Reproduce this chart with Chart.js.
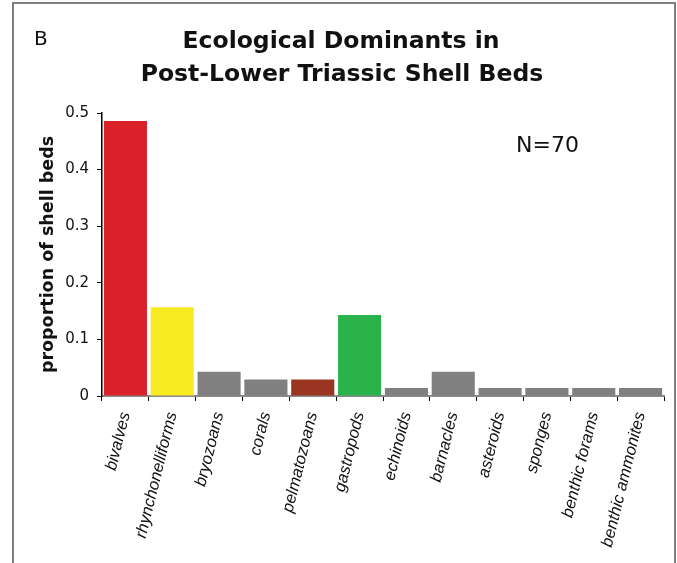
<!DOCTYPE html>
<html>
<head>
<meta charset="utf-8">
<script src="https://cdn.jsdelivr.net/npm/chart.js@4/dist/chart.umd.min.js"></script>
<style>
  html, body { margin: 0; padding: 0; background: #ffffff; }
  #wrap { width: 677px; height: 563px; }
</style>
</head>
<body>
<div id="wrap"><canvas id="chart" width="677" height="563"></canvas></div>
<script>
// Taxa recorded as ecological dominants
const categories = [
  'bivalves', 'rhynchonelliforms', 'bryozoans', 'corals', 'pelmatozoans',
  'gastropods', 'echinoids', 'barnacles', 'asteroids', 'sponges',
  'benthic forams', 'benthic ammonites'
];

// Proportion of shell beds dominated by each taxon
const proportions = [
  0.486, 0.157, 0.043, 0.029, 0.029,
  0.143, 0.014, 0.043, 0.014, 0.014,
  0.014, 0.014
];

const yTicks = [0, 0.1, 0.2, 0.3, 0.4, 0.5];
const titleLines = ['Ecological Dominants in', 'Post-Lower Triassic Shell Beds'];
const panelLetter = 'B';
const sampleNote = 'N=70';

// Bar fills, one per taxon
const fills = [
  '#da2129', '#f6ea20', '#808080', '#808080', '#993520',
  '#2bb34b', '#808080', '#808080', '#808080', '#808080',
  '#808080', '#808080'
];

// Panel frame, letter, heading and sample-size note
const decorations = {
  id: 'decorations',
  beforeDraw(chart) {
    const ctx = chart.ctx;
    ctx.save();
    ctx.fillStyle = '#ffffff';
    ctx.fillRect(0, 0, chart.width, chart.height);
    ctx.restore();
  },
  afterDraw(chart) {
    const ctx = chart.ctx;
    ctx.save();
    ctx.strokeStyle = '#7f7f7f';
    ctx.lineWidth = 2;
    ctx.beginPath();
    ctx.moveTo(13, 563);
    ctx.lineTo(13, 3);
    ctx.lineTo(675, 3);
    ctx.lineTo(675, 563);
    ctx.stroke();

    ctx.fillStyle = '#111111';
    ctx.textBaseline = 'alphabetic';
    ctx.textAlign = 'left';
    ctx.font = '20px "DejaVu Sans"';
    ctx.fillText(panelLetter, 34, 45);

    ctx.textAlign = 'center';
    ctx.font = 'bold 23.5px "DejaVu Sans"';
    ctx.fillText(titleLines[0], 341, 48);
    ctx.fillText(titleLines[1], 342, 81);

    ctx.textAlign = 'left';
    ctx.font = '22px "DejaVu Sans"';
    ctx.fillText(sampleNote, 516, 152);
    ctx.restore();
  }
};

new Chart(document.getElementById('chart'), {
  type: 'bar',
  data: {
    labels: categories,
    datasets: [{
      data: proportions,
      backgroundColor: fills,
      borderWidth: 0,
      barPercentage: 0.92,
      categoryPercentage: 1.0
    }]
  },
  options: {
    responsive: false,
    animation: false,
    devicePixelRatio: 1,
    layout: { padding: { left: 0, right: 13, top: 113, bottom: 0 } },
    plugins: {
      legend: { display: false },
      title: { display: false },
      tooltip: { enabled: false }
    },
    scales: {
      x: {
        offset: true,
        grid: {
          display: true,
          drawOnChartArea: false,
          drawTicks: true,
          tickLength: 5,
          tickColor: '#000000',
          offset: true
        },
        border: { display: true, color: '#8a8a8a', width: 2 },
        ticks: {
          autoSkip: false,
          maxRotation: 76,
          minRotation: 76,
          padding: 9,
          color: '#111111',
          font: { family: '"Liberation Sans", Arial, sans-serif', size: 16.5, style: 'italic' }
        },
        afterFit(scale) { scale.height = 167; }
      },
      y: {
        min: 0,
        max: 0.5,
        afterBuildTicks(scale) { scale.ticks = yTicks.map(v => ({ value: v })); },
        grid: {
          display: true,
          drawOnChartArea: false,
          drawTicks: true,
          tickLength: 5,
          tickColor: '#000000'
        },
        border: { display: true, color: '#000000', width: 1.5 },
        ticks: {
          padding: 8,
          color: '#111111',
          font: { family: '"DejaVu Sans", sans-serif', size: 15 },
          callback: (v) => String(v)
        },
        title: {
          display: true,
          text: 'proportion of shell beds',
          color: '#111111',
          font: { family: '"DejaVu Sans", sans-serif', size: 17.5, weight: 'bold' },
          padding: { top: 38, bottom: 0 }
        },
        afterFit(scale) { scale.width = 102; }
      }
    }
  },
  plugins: [decorations]
});
</script>
</body>
</html>
